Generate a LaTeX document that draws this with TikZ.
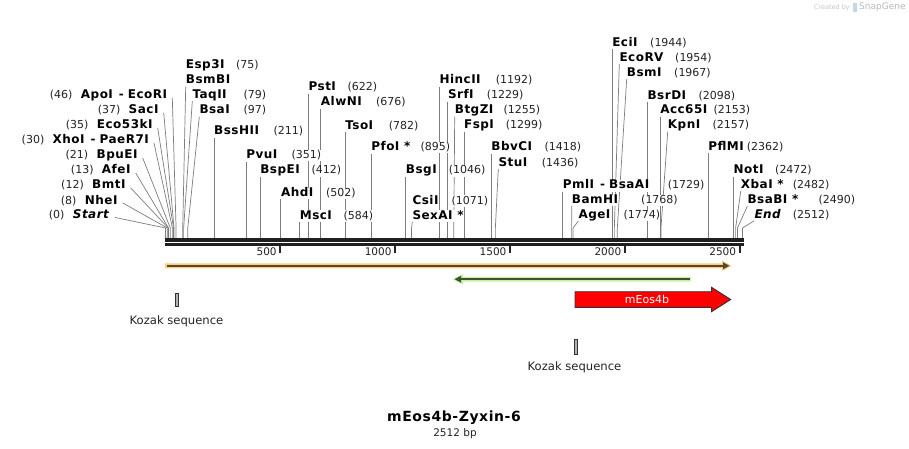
\documentclass[tikz,border=0pt]{standalone}
\usepackage{fontspec}
\setmainfont{DejaVu Sans}[BoldFeatures={LetterSpace=4.0},BoldItalicFeatures={LetterSpace=4.0}]
\usetikzlibrary{arrows.meta}
\pgfdeclarelayer{bgl}
\pgfdeclarelayer{cuts}
\pgfsetlayers{bgl,cuts,main}
\definecolor{cutline}{RGB}{125,125,125}
\definecolor{numcol}{RGB}{35,35,35}
\definecolor{orhalo}{RGB}{255,204,125}
\definecolor{ordark}{RGB}{85,72,50}
\definecolor{grhalo}{RGB}{198,242,158}
\definecolor{grdark}{RGB}{62,82,50}
\definecolor{featred}{RGB}{255,0,0}
\definecolor{featedge}{RGB}{50,50,50}
\newcommand\dsh{\hspace{6pt}-\hspace{4pt}}
\tikzset{
  enz/.style={font=\fontsize{12}{13}\selectfont\bfseries, inner sep=0pt, text height=8.6pt, text depth=2.5pt, fill=white},
  numn/.style={font=\fontsize{11}{13}\selectfont, text=numcol, inner sep=0pt, text height=8.6pt, text depth=2.5pt, fill=white},
  cutl/.style={draw=cutline, line width=0.7pt},
  plain/.style={inner sep=0pt},
}
% number: id, x, ycenter, number
\newcommand\numat[4]{\node[numn, anchor=base west] (#1) at (#2, #3+4) {(#4)};}
% number left of a left label: id, label id, number
\newcommand\numleft[3]{\node[numn, anchor=base east] (#1) at ([xshift=-8pt]#2.base west) {(#3)};}
% vertical label: id, bp, ycenter, text
\newcommand\vlab[4]{%
  \pgfmathsetmacro\xx{165.5+0.2297*#2}
  \node[enz, anchor=base west] (#1) at (\xx, #3+4) {#4};
  \coordinate (#1p) at (\xx, 238.5);
  \begin{pgfonlayer}{cuts}\draw[cutl] (#1.south west) -- (#1p);\end{pgfonlayer}
}
% slanted right label: id, xlabel, ycenter, text, bp
\newcommand\slab[5]{%
  \pgfmathsetmacro\xx{165.5+0.2297*#5}
  \node[enz, anchor=base west] (#1) at (#2, #3+4) {#4};
  \coordinate (#1k) at (\xx, 228);
  \coordinate (#1p) at (\xx, 238.5);
  \begin{pgfonlayer}{cuts}\draw[cutl] (#1.south west) -- (#1k) -- (#1p);\end{pgfonlayer}
}
% left label: id, xright, ycenter, text, bp
\newcommand\llab[5]{%
  \pgfmathsetmacro\xx{165.5+0.2297*#5}
  \node[enz, anchor=base east] (#1) at (#2, #3+4) {#4};
  \coordinate (#1k) at (\xx, 228);
  \coordinate (#1p) at (\xx, 238.5);
  \begin{pgfonlayer}{cuts}\draw[cutl] ([xshift=5pt,yshift=-2pt]#1.east) -- (#1k) -- (#1p);\end{pgfonlayer}
}
\begin{document}
\begin{tikzpicture}[x=1pt,y=-1pt]
\begin{pgfonlayer}{bgl}
\fill[white] (0,0) rectangle (909,449);
\end{pgfonlayer}
\useasboundingbox (0,0) rectangle (909,449);

% watermark
\node[plain, anchor=east, text=gray!45, font=\fontsize{6.5}{8}\selectfont] (wm1) at (850,7.5) {Created by};
\fill[cyan!35!gray!40] (853,3) rectangle (856.5,12);
\node[plain, anchor=west, text=gray!55, font=\fontsize{9}{10}\selectfont] (wm2) at (859,7.5) {SnapGene};

% left labels
\llab{lStart}{110}{214.5}{\textit{Start}}{0}      \numleft{nStart}{lStart}{0}
\llab{lNheI}{117.7}{200}{NheI}{8}                 \numleft{nNheI}{lNheI}{8}
\llab{lBmtI}{125.7}{185}{BmtI}{12}                \numleft{nBmtI}{lBmtI}{12}
\llab{lAfeI}{130.7}{170}{AfeI}{13}                \numleft{nAfeI}{lAfeI}{13}
\llab{lBpuEI}{137.7}{155}{BpuEI}{21}              \numleft{nBpuEI}{lBpuEI}{21}
\llab{lXhoI}{149}{140}{XhoI\dsh PaeR7I}{30}       \numleft{nXhoI}{lXhoI}{30}
\llab{lEco}{152.7}{125}{Eco53kI}{35}              \numleft{nEco}{lEco}{35}
\llab{lSacI}{158.7}{110}{SacI}{37}                \numleft{nSacI}{lSacI}{37}
\llab{lApoI}{167.3}{95}{ApoI\dsh EcoRI}{46}       \numleft{nApoI}{lApoI}{46}

% right labels
\node[enz, anchor=base west] (rEsp3I) at (185.7, 69) {Esp3I}; \numat{nEsp3I}{236}{65}{75}
\slab{rBsmBI}{185.7}{80}{BsmBI}{75}
\slab{rTaqII}{192.3}{94.5}{TaqII}{79}             \numat{nTaqII}{243.3}{94.5}{79}
\slab{rBsaI}{199.3}{110}{BsaI}{97}                \numat{nBsaI}{243.3}{110}{97}
\vlab{rBssHII}{211}{131}{BssHII}                  \numat{nBssHII}{273.3}{131}{211}
\vlab{rPvuI}{351}{155}{PvuI}                      \numat{nPvuI}{291.3}{155}{351}
\vlab{rBspEI}{412}{170}{BspEI}                    \numat{nBspEI}{311.3}{170}{412}
\vlab{rAhdI}{502}{192.5}{AhdI}                    \numat{nAhdI}{326}{192.5}{502}
\vlab{rMscI}{584}{215}{MscI}                      \numat{nMscI}{343.3}{215}{584}
\vlab{rPstI}{622}{87}{PstI}                       \numat{nPstI}{347.3}{87}{622}
\vlab{rAlwNI}{676}{102}{AlwNI}                    \numat{nAlwNI}{376}{102}{676}
\vlab{rTsoI}{782}{125.5}{TsoI}                    \numat{nTsoI}{388.7}{125.5}{782}
\vlab{rPfoI}{895}{147}{PfoI *}                    \numat{nPfoI}{420.3}{147}{895}
\vlab{rBsgI}{1046}{170}{BsgI}                     \numat{nBsgI}{448.7}{170}{1046}
\node[enz, anchor=base west] (rCsiI) at (412.3, 204) {CsiI}; \numat{nCsiI}{451.3}{200}{1071}
\slab{rSexAI}{412.3}{215}{SexAI *}{1071}
\vlab{rHincII}{1192}{80}{HincII}                  \numat{nHincII}{495.7}{80}{1192}
\vlab{rSrfI}{1229}{95}{SrfI}                      \numat{nSrfI}{486.7}{95}{1229}
\slab{rBtgZI}{454.7}{110}{BtgZI}{1255}            \numat{nBtgZI}{503.3}{110}{1255}
\vlab{rFspI}{1299}{125}{FspI}                     \numat{nFspI}{505.7}{125}{1299}
\vlab{rBbvCI}{1418}{147}{BbvCI}                   \numat{nBbvCI}{544.5}{147}{1418}
\slab{rStuI}{498.3}{162.3}{StuI}{1436}            \numat{nStuI}{541.7}{162.3}{1436}
\vlab{rPmlI}{1729}{185}{PmlI\dsh BsaAI}           \numat{nPmlI}{667.7}{185}{1729}
\slab{rBamHI}{571.7}{199.5}{BamHI}{1768}          \numat{nBamHI}{641}{199.5}{1768}
\slab{rAgeI}{578.3}{214.5}{AgeI}{1774}            \numat{nAgeI}{623.3}{214.5}{1774}
\vlab{rEciI}{1944}{42.7}{EciI}                    \numat{nEciI}{650}{42.7}{1944}
\slab{rEcoRV}{619.3}{57.3}{EcoRV}{1954}           \numat{nEcoRV}{675}{57.3}{1954}
\slab{rBsmI}{626.7}{72.3}{BsmI}{1967}             \numat{nBsmI}{674}{72.3}{1967}
\vlab{rBsrDI}{2098}{95.5}{BsrDI}                  \numat{nBsrDI}{698.3}{95.5}{2098}
\vlab{rAcc}{2153}{110}{Acc65I}                    \numat{nAcc}{713.3}{110}{2153}
\slab{rKpnI}{667.7}{125}{KpnI}{2157}              \numat{nKpnI}{712.3}{125}{2157}
\vlab{rPflMI}{2362}{146.7}{PflMI}                 \numat{nPflMI}{746.7}{146.7}{2362}
\vlab{rNotI}{2472}{170}{NotI}                     \numat{nNotI}{775}{170}{2472}
\slab{rXbaI}{740.7}{184.5}{XbaI *}{2482}          \numat{nXbaI}{792.7}{184.5}{2482}
\slab{rBsaBI}{747.3}{199.5}{BsaBI *}{2490}        \numat{nBsaBI}{818.3}{199.5}{2490}
\slab{rEnd}{754.3}{214}{\textit{End}}{2512}       \numat{nEnd}{792.7}{214}{2512}

% backbone
\fill[black!88] (165,238.3) rectangle (744,241.5);
\fill[black!88] (165,243) rectangle (744,246);

% ticks
\foreach \t in {500,1000,1500,2000,2500}{
  \pgfmathsetmacro\xt{165.5+0.2297*\t}
  \draw[line width=2pt, black!85] (\xt,245) -- (\xt,252.5);
  \node[plain, anchor=east, font=\fontsize{10.5}{12}\selectfont, text=numcol] (t\t) at (\xt-3.5, 252) {\t};
}

% orange feature arrow
\fill[orhalo] (165,263.3) -- (722,263.3) -- (722,260.5) -- (731.5,265.8) -- (722,271.2) -- (722,268.3) -- (165,268.3) -- cycle;
\draw[ordark, line width=2pt, -{Triangle[length=6.5pt,width=6.5pt]}] (166.5,265.8) -- (729.5,265.8);

% green feature arrow
\fill[grhalo] (691,276.8) -- (463,276.8) -- (463,274) -- (452.5,279.2) -- (463,284.4) -- (463,281.6) -- (691,281.6) -- cycle;
\draw[grdark, line width=2pt, -{Triangle[length=6.5pt,width=6.5pt]}] (689.5,279.2) -- (454.5,279.2);

% mEos4b
\draw[featedge, fill=featred, line width=0.9pt] (575,291.7) -- (711.5,291.7) -- (711.5,287.3) -- (730.7,299.5) -- (711.5,311.7) -- (711.5,307.3) -- (575,307.3) -- cycle;
\node[plain, text=white, font=\fontsize{11}{13}\selectfont] (mEos) at (647,299.5) {mEos4b};

% Kozak sequences
\draw[draw=gray!40!black, fill=gray!60, line width=0.6pt] (175.3,293) rectangle (178.3,306.5);
\node[plain, font=\fontsize{11.6}{13}\selectfont, text=numcol] (koz1) at (176.5,321) {Kozak sequence};
\draw[draw=gray!40!black, fill=gray!60, line width=0.6pt] (574.3,339.5) rectangle (577,354);
\node[plain, font=\fontsize{11.6}{13}\selectfont, text=numcol] (koz2) at (574.5,367.5) {Kozak sequence};

% title
\node[plain, font=\fontsize{14}{16}\selectfont\bfseries] (title) at (454,418) {mEos4b-Zyxin-6};
\node[plain, font=\fontsize{10.5}{12}\selectfont, text=numcol] (bp) at (455,433.5) {2512 bp};
\end{tikzpicture}
\end{document}
